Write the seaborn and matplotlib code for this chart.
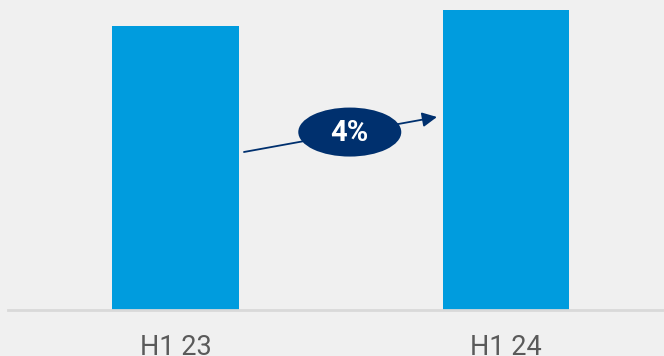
import matplotlib
matplotlib.use("Agg")
import matplotlib.pyplot as plt
import seaborn as sns
import pandas as pd
from matplotlib.patches import Ellipse

categories = ["H1 23", "H1 24"]
values = [284, 300]
growth_label = "4%"

BG = "#f0f0f0"
BAR = "#009cde"
NAVY = "#00306e"
TXT = "#5a5a5a"

sns.set_theme(style="white")
plt.rcParams["font.family"] = ["Roboto", "DejaVu Sans"]

fig = plt.figure(figsize=(6.64, 3.56), dpi=100, facecolor=BG)
ax = fig.add_axes([8 / 664, 46 / 356, 656 / 664, 310 / 356])
ax.set_facecolor(BG)

df = pd.DataFrame({"cat": categories, "val": values})
sns.barplot(data=df, x="cat", y="val", color=BAR, saturation=1, width=0.384,
            linewidth=0, edgecolor="none", ax=ax)

ax.set_xlim(-0.507, 1.478)
ax.set_ylim(0, 310)
ax.set_xlabel("")
ax.set_ylabel("")
ax.set_yticks([])
for s in ["top", "right", "left"]:
    ax.spines[s].set_visible(False)
ax.spines["bottom"].set_color("#d9d9d9")
ax.spines["bottom"].set_linewidth(2)
ax.tick_params(axis="x", length=0, pad=17, labelsize=19.5, labelcolor=TXT)

# growth arrow
ax.annotate("", xy=(0.791, 193), xytext=(0.207, 158),
            arrowprops=dict(arrowstyle="-|>", color=NAVY, lw=1.3, mutation_scale=22,
                            shrinkA=0, shrinkB=0))
ell = Ellipse((0.521, 0.574), 103 / 656, 49 / 310, transform=ax.transAxes,
              facecolor=NAVY, edgecolor="none", zorder=5)
ax.add_patch(ell)
ax.text(0.521, 0.572, growth_label, transform=ax.transAxes, ha="center", va="center",
        color="white", fontsize=21, fontweight="bold", zorder=6)

fig.savefig("out.png", dpi=100, facecolor=BG)
